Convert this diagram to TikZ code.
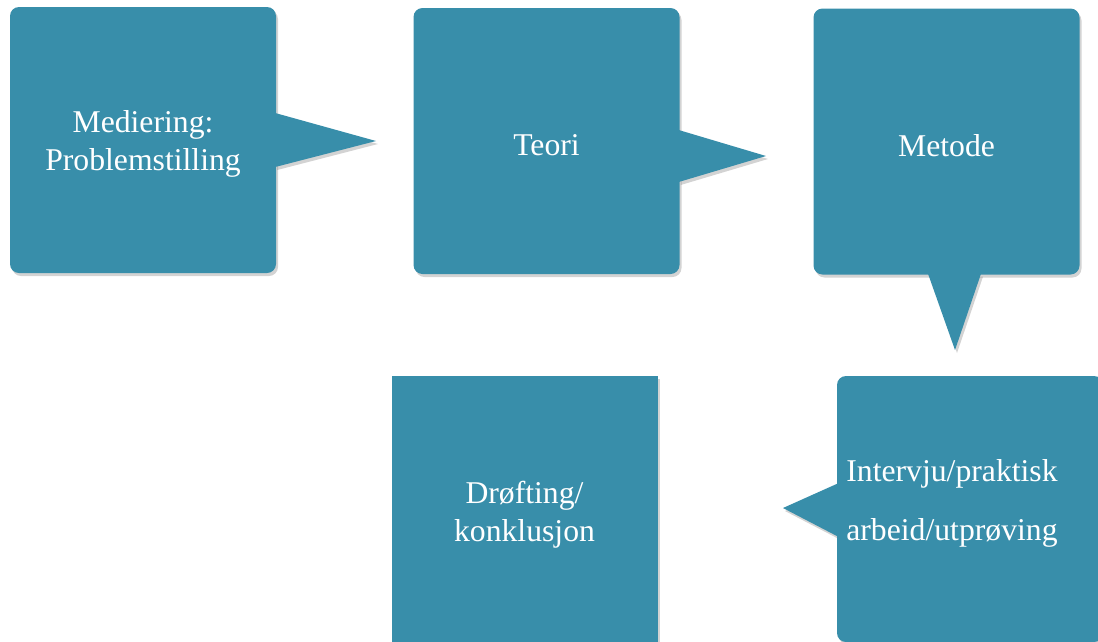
\documentclass[tikz,border=0pt]{standalone}
\usepackage{fontspec}
\setmainfont{Liberation Serif}
\usepackage{tikz}
\usetikzlibrary{shadows}
\usetikzlibrary{backgrounds}
\usepackage{xcolor}
\definecolor{kort}{RGB}{56,142,170}

\begin{document}
\begin{tikzpicture}[x=1pt,y=-1pt,
  skygge/.style={drop shadow={opacity=0.35,shadow xshift=2pt,shadow yshift=-3pt}},
  boks/.style={fill=kort,skygge,minimum width=266pt,minimum height=266pt,inner sep=0pt,rounded corners=9pt},
  tekst/.style={text=white,font=\fontsize{31.7}{38}\selectfont,align=center},
  spiss/.style={fill=kort,skygge}]
\useasboundingbox (0,0) rectangle (1098,641);
\node [boks] (med) at (143,140) {};
\node [boks] (teori) at (546.5,141) {};
\node [boks] (metode) at (946.5,141.5) {};
\node [boks] (intervju) at (970,509) {};
\node [boks,sharp corners] (drofting) at (524.5,509) {};

\node [tekst] (medtekst) at ([yshift=-4pt]med.center) {Mediering:\\Problemstilling};
\node [tekst] (teoritekst) at ([yshift=-4pt]teori.center) {Teori};
\node [tekst] (metodetekst) at ([yshift=-4pt]metode.center) {Metode};
\node [tekst] (intervjutekst) at (952,503) {Intervju/praktisk\\[21pt]arbeid/utprøving};
\node [tekst] (droftingtekst) at ([yshift=-6pt]drofting.center) {Drøfting/\\konklusjon};

\coordinate (spiss1) at (376,141);
\coordinate (spiss2) at (766,156);
\coordinate (spiss3) at (955,350);
\coordinate (spiss4) at (783,508);

\fill [spiss] ([xshift=-1pt,yshift=27pt]med.east) -- (spiss1) -- ([xshift=-1pt,yshift=-27pt]med.east) -- cycle;
\fill [spiss] ([xshift=-1pt,yshift=11pt]teori.east) -- (spiss2) -- ([xshift=-1pt,yshift=-41pt]teori.east) -- cycle;
\fill [spiss] ([xshift=-18.5pt,yshift=1pt]metode.south) -- (spiss3) -- ([xshift=34.5pt,yshift=1pt]metode.south) -- cycle;
\begin{scope}[on background layer]
\fill [spiss] ([xshift=2pt,yshift=26pt]intervju.west) -- (spiss4) -- ([xshift=2pt,yshift=-28pt]intervju.west) -- cycle;
\end{scope}
\end{tikzpicture}
\end{document}
